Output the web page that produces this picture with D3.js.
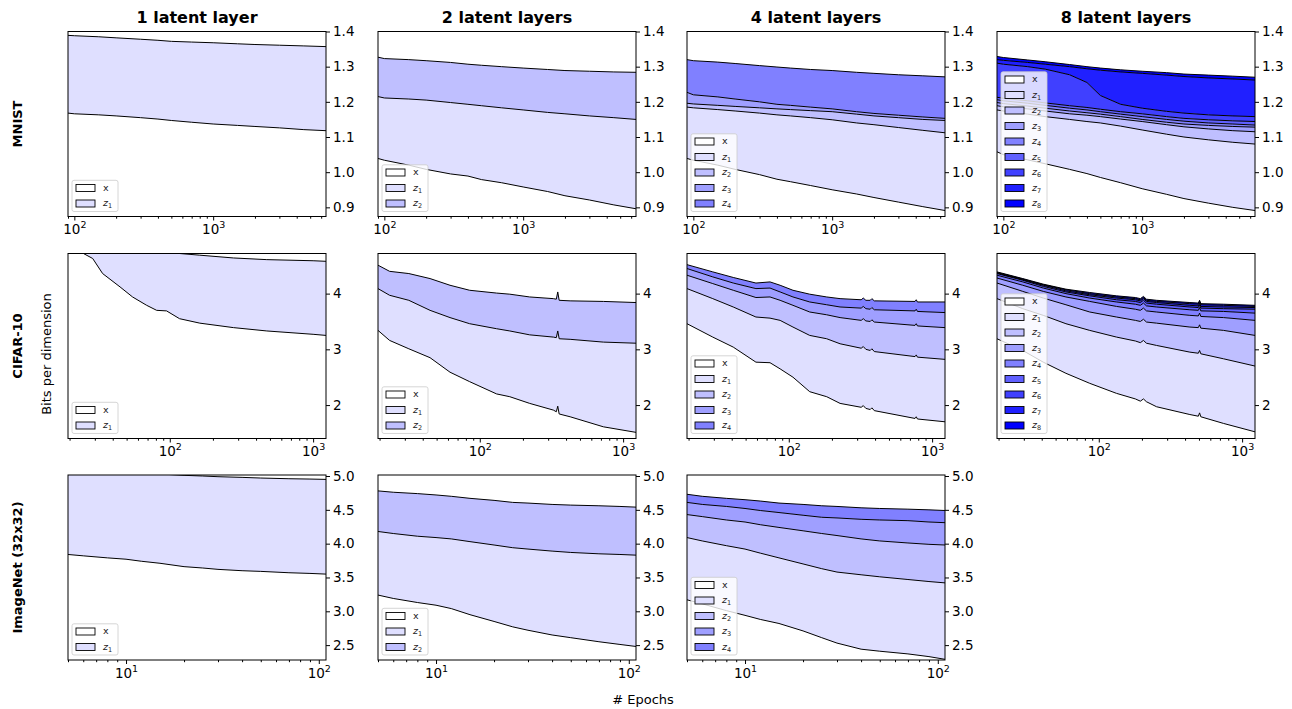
<!DOCTYPE html>
<html>
<head>
<meta charset="utf-8">
<script src="https://cdn.jsdelivr.net/npm/d3@7"></script>
<style>
body { margin: 0; background: #fff; }
svg { font-family: "DejaVu Sans", sans-serif; }
</style>
</head>
<body>
<svg id="chart" width="1292" height="709"></svg>
<script>
// each panel: list of cumulative boundaries, bottom one is x, the last is the total
var mnistEpochs = [90, 100, 150, 200, 300, 400, 500, 700, 1000, 1500, 2000, 3000, 4500, 6500];
var mnist1 = [
  [1.168, 1.166, 1.163, 1.160, 1.155, 1.151, 1.147, 1.142, 1.137, 1.133, 1.130, 1.126, 1.121, 1.118],
  [1.389, 1.388, 1.385, 1.382, 1.378, 1.375, 1.372, 1.370, 1.368, 1.365, 1.363, 1.361, 1.359, 1.357]
];
var mnist2 = [
  [1.039, 1.034, 1.020, 1.008, 0.995, 0.989, 0.979, 0.970, 0.958, 0.945, 0.933, 0.921, 0.907, 0.896],
  [1.215, 1.211, 1.208, 1.205, 1.198, 1.193, 1.189, 1.183, 1.177, 1.170, 1.166, 1.160, 1.155, 1.150],
  [1.327, 1.323, 1.320, 1.317, 1.312, 1.307, 1.304, 1.300, 1.296, 1.292, 1.289, 1.287, 1.285, 1.284]
];
var mnist4 = [
  [1.039, 1.034, 1.020, 1.008, 0.993, 0.980, 0.973, 0.962, 0.950, 0.938, 0.928, 0.915, 0.902, 0.891],
  [1.185, 1.183, 1.178, 1.174, 1.168, 1.163, 1.160, 1.155, 1.149, 1.140, 1.135, 1.127, 1.119, 1.112],
  [1.196, 1.194, 1.190, 1.187, 1.183, 1.180, 1.178, 1.175, 1.172, 1.165, 1.160, 1.155, 1.150, 1.147],
  [1.227, 1.220, 1.214, 1.208, 1.200, 1.193, 1.190, 1.185, 1.180, 1.172, 1.167, 1.162, 1.157, 1.153],
  [1.320, 1.317, 1.313, 1.309, 1.303, 1.299, 1.296, 1.292, 1.289, 1.284, 1.281, 1.277, 1.274, 1.271]
];
var mnist8 = [
  [1.058, 1.050, 1.035, 1.024, 1.008, 0.996, 0.985, 0.970, 0.953, 0.937, 0.925, 0.912, 0.900, 0.891],
  [1.177, 1.174, 1.165, 1.158, 1.150, 1.144, 1.140, 1.131, 1.120, 1.108, 1.100, 1.092, 1.085, 1.080],
  [1.189, 1.186, 1.180, 1.174, 1.166, 1.162, 1.158, 1.151, 1.144, 1.135, 1.129, 1.123, 1.118, 1.115],
  [1.198, 1.195, 1.188, 1.182, 1.174, 1.169, 1.165, 1.158, 1.150, 1.142, 1.137, 1.133, 1.130, 1.128],
  [1.206, 1.203, 1.196, 1.190, 1.182, 1.177, 1.172, 1.165, 1.158, 1.150, 1.145, 1.140, 1.137, 1.134],
  [1.213, 1.210, 1.203, 1.197, 1.189, 1.184, 1.179, 1.172, 1.166, 1.158, 1.153, 1.149, 1.146, 1.144],
  [1.310, 1.307, 1.300, 1.293, 1.277, 1.255, 1.218, 1.193, 1.182, 1.173, 1.168, 1.163, 1.160, 1.158],
  [1.320, 1.318, 1.312, 1.307, 1.300, 1.294, 1.290, 1.285, 1.281, 1.276, 1.272, 1.268, 1.265, 1.262],
  [1.329, 1.326, 1.319, 1.314, 1.306, 1.300, 1.296, 1.291, 1.287, 1.283, 1.279, 1.276, 1.273, 1.270]
];

var cifarEpochs1 = [19.5, 25, 29, 34, 45, 55, 69, 81, 95, 117, 162, 278, 475, 1000, 1230];
var cifar1 = [
  [5.0, 4.72, 4.63, 4.36, 4.12, 3.94, 3.79, 3.70, 3.69, 3.55, 3.47, 3.39, 3.33, 3.27, 3.25],
  [5.5, 5.4, 5.3, 5.2, 5.1, 5.0, 4.95, 4.9, 4.85, 4.72, 4.69, 4.64, 4.61, 4.59, 4.58]
];
var cifarEpochs2 = [19.5, 23.5, 32, 45, 62, 85, 131, 162, 223, 326, 342, 350, 358, 427, 728, 1230];
var cifar2 = [
  [3.34, 3.16, 3.01, 2.85, 2.59, 2.42, 2.20, 2.15, 2.03, 1.91, 1.88, 1.98, 1.84, 1.79, 1.61, 1.51],
  [4.09, 3.97, 3.88, 3.70, 3.57, 3.46, 3.37, 3.33, 3.26, 3.22, 3.21, 3.33, 3.19, 3.18, 3.13, 3.11],
  [4.51, 4.40, 4.36, 4.27, 4.15, 4.06, 4.01, 3.99, 3.94, 3.91, 3.90, 4.03, 3.88, 3.87, 3.86, 3.84]
];
var cifarEpochs4 = [19.5, 29.5, 41, 59, 74, 87, 107, 140, 184, 228, 320, 331, 345, 370, 380, 395, 760, 775, 790, 1230];
var cifar4 = [
  [3.46, 3.22, 3.04, 2.77, 2.76, 2.65, 2.50, 2.24, 2.15, 2.03, 1.96, 1.99, 1.94, 1.92, 1.95, 1.90, 1.76, 1.79, 1.75, 1.70],
  [4.09, 3.91, 3.76, 3.58, 3.56, 3.52, 3.40, 3.25, 3.19, 3.10, 3.02, 3.05, 3.00, 2.98, 3.01, 2.96, 2.87, 2.90, 2.86, 2.82],
  [4.33, 4.18, 4.06, 3.93, 3.94, 3.88, 3.79, 3.67, 3.62, 3.57, 3.52, 3.55, 3.51, 3.50, 3.53, 3.49, 3.43, 3.46, 3.42, 3.39],
  [4.45, 4.30, 4.19, 4.09, 4.10, 4.03, 3.94, 3.85, 3.80, 3.76, 3.74, 3.77, 3.73, 3.72, 3.75, 3.71, 3.69, 3.72, 3.68, 3.66],
  [4.52, 4.39, 4.29, 4.19, 4.21, 4.15, 4.06, 3.99, 3.94, 3.91, 3.89, 3.92, 3.88, 3.88, 3.91, 3.87, 3.86, 3.89, 3.85, 3.85]
];
var cifarEpochs8 = [19.5, 29.5, 41, 59, 86.5, 133, 180, 195, 205, 215, 253, 432, 495, 505, 515, 743, 1230];
var cifar8 = [
  [3.19, 2.98, 2.77, 2.57, 2.39, 2.21, 2.11, 2.07, 2.11, 2.06, 1.97, 1.83, 1.80, 1.86, 1.79, 1.67, 1.52],
  [3.91, 3.73, 3.61, 3.46, 3.34, 3.22, 3.15, 3.12, 3.16, 3.11, 3.07, 2.95, 2.93, 2.98, 2.92, 2.83, 2.70],
  [4.19, 4.04, 3.92, 3.80, 3.67, 3.58, 3.52, 3.50, 3.54, 3.49, 3.47, 3.40, 3.39, 3.44, 3.38, 3.34, 3.25],
  [4.28, 4.15, 4.04, 3.94, 3.86, 3.77, 3.72, 3.70, 3.74, 3.69, 3.67, 3.61, 3.60, 3.65, 3.59, 3.57, 3.52],
  [4.33, 4.21, 4.10, 4.00, 3.92, 3.85, 3.81, 3.79, 3.83, 3.78, 3.76, 3.71, 3.70, 3.75, 3.69, 3.68, 3.65],
  [4.36, 4.24, 4.13, 4.03, 3.96, 3.89, 3.86, 3.84, 3.88, 3.83, 3.81, 3.76, 3.75, 3.80, 3.74, 3.73, 3.72],
  [4.37, 4.25, 4.15, 4.05, 3.98, 3.92, 3.89, 3.87, 3.91, 3.86, 3.84, 3.79, 3.78, 3.83, 3.77, 3.76, 3.75],
  [4.38, 4.26, 4.16, 4.07, 4.00, 3.94, 3.91, 3.89, 3.93, 3.88, 3.86, 3.82, 3.81, 3.86, 3.80, 3.79, 3.77],
  [4.39, 4.27, 4.17, 4.08, 4.02, 3.96, 3.93, 3.91, 3.95, 3.90, 3.88, 3.84, 3.83, 3.88, 3.82, 3.81, 3.79]
];

var imagenetEpochs = [5, 6, 8, 10, 12, 15, 20, 25, 30, 40, 50, 70, 90, 109];
var imagenet1 = [
  [3.84, 3.82, 3.79, 3.77, 3.74, 3.71, 3.66, 3.64, 3.62, 3.60, 3.59, 3.57, 3.56, 3.55],
  [5.15, 5.12, 5.08, 5.06, 5.04, 5.03, 5.01, 5.00, 4.99, 4.98, 4.97, 4.96, 4.955, 4.95]
];
var imagenet2 = [
  [3.24, 3.19, 3.13, 3.09, 3.04, 2.95, 2.85, 2.77, 2.72, 2.65, 2.61, 2.55, 2.51, 2.48],
  [4.18, 4.15, 4.11, 4.09, 4.07, 4.03, 3.98, 3.94, 3.92, 3.89, 3.87, 3.85, 3.84, 3.83],
  [4.78, 4.76, 4.74, 4.72, 4.70, 4.67, 4.64, 4.61, 4.60, 4.58, 4.57, 4.56, 4.55, 4.54]
];
var imagenet4 = [
  [3.17, 3.11, 3.01, 2.94, 2.88, 2.82, 2.71, 2.61, 2.53, 2.44, 2.41, 2.37, 2.33, 2.29],
  [4.09, 4.04, 3.97, 3.92, 3.86, 3.79, 3.70, 3.63, 3.58, 3.54, 3.51, 3.47, 3.44, 3.42],
  [4.43, 4.40, 4.35, 4.32, 4.28, 4.24, 4.19, 4.15, 4.12, 4.07, 4.04, 4.01, 3.99, 3.98],
  [4.61, 4.58, 4.55, 4.52, 4.49, 4.46, 4.42, 4.39, 4.38, 4.36, 4.35, 4.34, 4.32, 4.31],
  [4.73, 4.70, 4.67, 4.65, 4.63, 4.60, 4.58, 4.56, 4.55, 4.53, 4.52, 4.51, 4.50, 4.49]
];

var colTitles = ['1 latent layer', '2 latent layers', '4 latent layers', '8 latent layers'];
var rowNames = ['MNIST', 'CIFAR-10', 'ImageNet (32x32)'];
var rowXDomain = [[90, 6500], [19.5, 1230], [5, 109]];
var rowYDomain = [[0.874, 1.4], [1.40, 4.72], [2.28, 5.015]];
var rowYTicks = [[0.9, 1.0, 1.1, 1.2, 1.3, 1.4], [2, 3, 4], [2.5, 3.0, 3.5, 4.0, 4.5, 5.0]];
var rowXMajor = [[100, 1000], [100, 1000], [10, 100]];
var rowYFmt = [d3.format('.1f'), d3.format('d'), d3.format('.1f')];

var panels = [
  {row: 0, col: 0, epochs: mnistEpochs, lines: mnist1},
  {row: 0, col: 1, epochs: mnistEpochs, lines: mnist2},
  {row: 0, col: 2, epochs: mnistEpochs, lines: mnist4},
  {row: 0, col: 3, epochs: mnistEpochs, lines: mnist8},
  {row: 1, col: 0, epochs: cifarEpochs1, lines: cifar1},
  {row: 1, col: 1, epochs: cifarEpochs2, lines: cifar2},
  {row: 1, col: 2, epochs: cifarEpochs4, lines: cifar4},
  {row: 1, col: 3, epochs: cifarEpochs8, lines: cifar8},
  {row: 2, col: 0, epochs: imagenetEpochs, lines: imagenet1},
  {row: 2, col: 1, epochs: imagenetEpochs, lines: imagenet2},
  {row: 2, col: 2, epochs: imagenetEpochs, lines: imagenet4}
];

var colX = [68, 378, 687, 997], rowY = [31.5, 253.5, 475];
var pw = 258, ph = 185;

var svg = d3.select('#chart');

function fillColor(i) {
  var c = Math.round(255 * (1 - i / 8));
  return 'rgb(' + c + ',' + c + ',255)';
}

panels.forEach(function(p, pi) {
  var g = svg.append('g').attr('transform', 'translate(' + colX[p.col] + ',' + rowY[p.row] + ')');
  var x = d3.scaleLog().domain(rowXDomain[p.row]).range([0, pw]);
  var y = d3.scaleLinear().domain(rowYDomain[p.row]).range([ph, 0]);

  g.append('clipPath').attr('id', 'clip' + pi)
    .append('rect').attr('width', pw).attr('height', ph);
  var plot = g.append('g').attr('clip-path', 'url(#clip' + pi + ')');

  var pts = p.epochs.map(function(e, j) {
    return {e: e, v: p.lines.map(function(l) { return l[j]; })};
  });

  // bands
  for (var k = 1; k < p.lines.length; k++) {
    (function(k) {
      var area = d3.area()
        .x(function(d) { return x(d.e); })
        .y0(function(d) { return y(d.v[k - 1]); })
        .y1(function(d) { return y(d.v[k]); });
      plot.append('path').datum(pts).attr('d', area).attr('fill', fillColor(k));
    })(k);
  }
  // edges
  p.lines.forEach(function(l, k) {
    var line = d3.line()
      .x(function(d) { return x(d.e); })
      .y(function(d) { return y(d.v[k]); });
    plot.append('path').datum(pts).attr('d', line)
      .attr('fill', 'none').attr('stroke', '#000').attr('stroke-width', 1);
  });

  // legend
  var n = p.lines.length;
  var boxH = 7.7 + (n - 1) * 15.5 + 8;
  var lg = g.append('g').attr('transform', 'translate(4,' + (ph - 5 - boxH) + ')');
  lg.append('rect').attr('width', 46).attr('height', boxH).attr('rx', 2)
    .attr('fill', '#fff').attr('fill-opacity', 0.8).attr('stroke', '#ccc').attr('stroke-width', 0.8);
  d3.range(n).forEach(function(j) {
    var cy = 7.7 + j * 15.5;
    lg.append('rect').attr('x', 4).attr('y', cy - 3.5).attr('width', 19).attr('height', 7)
      .attr('fill', j === 0 ? '#fff' : fillColor(j)).attr('stroke', '#000').attr('stroke-width', 0.9);
    var t = lg.append('text').attr('x', 31).attr('y', cy + 3).attr('font-size', 9.5).attr('fill', '#222');
    if (j === 0) {
      t.text('x');
    } else {
      t.append('tspan').attr('font-style', 'italic').text('z');
      t.append('tspan').attr('font-size', 6.5).attr('dy', 2).text(j);
    }
  });

  // frame
  g.append('rect').attr('width', pw).attr('height', ph)
    .attr('fill', 'none').attr('stroke', '#000').attr('stroke-width', 1);

  // y axis on the right
  var yAxis = d3.axisRight(y).tickValues(rowYTicks[p.row]).tickSize(4).tickPadding(3)
    .tickFormat(rowYFmt[p.row]);
  var ya = g.append('g').attr('transform', 'translate(' + pw + ',0)').call(yAxis);
  ya.select('.domain').remove();
  ya.selectAll('text').attr('font-size', 13.5).attr('font-family', '"DejaVu Sans", sans-serif').attr('fill', '#000');

  // x axis: minor then major
  var majors = rowXMajor[p.row];
  var minors = x.ticks().filter(function(v) { return majors.indexOf(v) < 0; });
  var xm = g.append('g').attr('transform', 'translate(0,' + ph + ')')
    .call(d3.axisBottom(x).tickValues(minors).tickSize(2.2).tickFormat(''));
  xm.select('.domain').remove();
  var xa = g.append('g').attr('transform', 'translate(0,' + ph + ')')
    .call(d3.axisBottom(x).tickValues(majors).tickSize(4).tickPadding(4));
  xa.select('.domain').remove();
  xa.selectAll('text').each(function(v) {
    var t = d3.select(this).text('')
      .attr('font-size', 13.5).attr('font-family', '"DejaVu Sans", sans-serif').attr('fill', '#000');
    t.append('tspan').text('10');
    t.append('tspan').attr('font-size', 9.5).attr('dy', -6).text(Math.round(Math.log10(v)));
  });
});

// column titles
colTitles.forEach(function(s, i) {
  svg.append('text').attr('x', colX[i] + pw / 2).attr('y', 23)
    .attr('text-anchor', 'middle').attr('font-size', 16).attr('font-weight', 'bold').text(s);
});

// row names
rowNames.forEach(function(s, i) {
  var cy = rowY[i] + ph / 2;
  svg.append('text').attr('transform', 'translate(22,' + cy + ') rotate(-90)')
    .attr('text-anchor', 'middle').attr('font-size', 13).attr('font-weight', 'bold').text(s);
});

svg.append('text').attr('transform', 'translate(51,354) rotate(-90)')
  .attr('text-anchor', 'middle').attr('font-size', 13).text('Bits per dimension');

svg.append('text').attr('x', 643).attr('y', 704)
  .attr('text-anchor', 'middle').attr('font-size', 13).text('# Epochs');
</script>
</body>
</html>
